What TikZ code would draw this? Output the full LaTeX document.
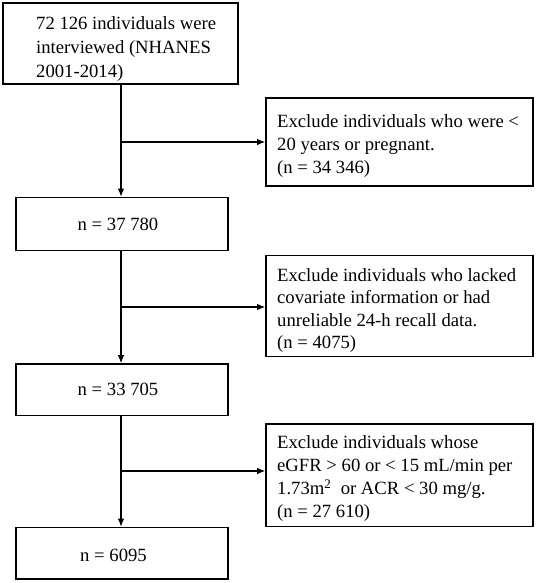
\documentclass[tikz,border=0pt]{standalone}
\usepackage{fontspec}
\setmainfont{Liberation Serif}
\usetikzlibrary{arrows.meta}
\begin{document}
\begin{tikzpicture}[x=1pt,y=-1pt,
  box/.style={draw=black,line width=1.6pt,rectangle,inner sep=0pt},
  txt/.style={inner sep=0pt,align=left,anchor=north west,font=\fontsize{18.67}{23.3}\selectfont},
  ctxt/.style={inner sep=0pt,anchor=base,font=\fontsize{18.67}{22}\selectfont},
  arr/.style={line width=1.2pt,-{Latex[length=8pt,width=6.5pt]}}]
\useasboundingbox (0,0) rectangle (536,583);
% boxes
\node[box,minimum width=235pt,minimum height=81pt] (b1) at (120.5,43.5) {};
\node[box,minimum width=267pt,minimum height=88pt] (e1) at (399.5,142) {};
\node[box,minimum width=212pt,minimum height=53pt] (b2) at (122,224) {};
\node[box,minimum width=267pt,minimum height=101pt] (e2) at (399.5,306) {};
\node[box,minimum width=212pt,minimum height=51.5pt] (b3) at (122,389.75) {};
\node[box,minimum width=267pt,minimum height=102.5pt] (e3) at (399.5,475.25) {};
\node[box,minimum width=212pt,minimum height=51.5pt] (b4) at (122,553.25) {};
% texts
\node[txt,font=\fontsize{18.67}{24}\selectfont] (tb1) at (36,16.2) {72 126 individuals were\\interviewed (NHANES\\2001-2014)};
\node[txt] (te1) at (277,113.9) {Exclude individuals who were <\\20 years or pregnant.\\(n = 34 346)};
\node[txt,font=\fontsize{18.67}{22.5}\selectfont] (te2) at (277,267.9) {Exclude individuals who lacked\\covariate information or had\\unreliable 24-h recall data.\\(n = 4075)};
\node[txt,font=\fontsize{18.67}{23}\selectfont] (te3) at (277,435.5) {Exclude individuals whose\\eGFR > 60 or < 15 mL/min per\\1.73m\textsuperscript{2}~ or ACR < 30 mg/g.\\(n = 27 610)};
\node[ctxt] (tb2) at (118,230.7) {n = 37 780};
\node[ctxt] (tb3) at (118,395) {n = 33 705};
\node[ctxt] (tb4) at (113.5,561.7) {n = 6095};
% connector junctions
\coordinate (v) at (121,0);
\coordinate (j1) at (121,142);
\coordinate (j2) at (121,307);
\coordinate (j3) at (121,471);
% connectors
\draw[arr] (b1.south -| v) -- (b2.north -| v);
\draw[arr] (j1) -- (j1 -| e1.west);
\draw[arr] (b2.south -| v) -- (b3.north -| v);
\draw[arr] (j2) -- (j2 -| e2.west);
\draw[arr] (b3.south -| v) -- (b4.north -| v);
\draw[arr] (j3) -- (j3 -| e3.west);
\end{tikzpicture}
\end{document}
